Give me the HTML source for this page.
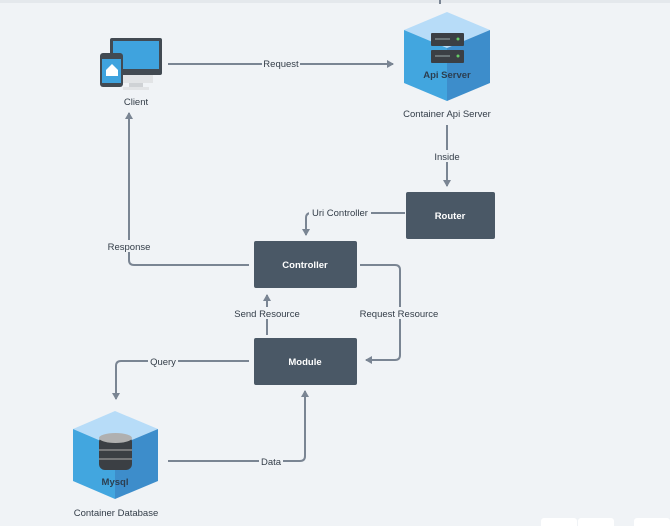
<!DOCTYPE html>
<html><head><style>
body{margin:0;background:#f0f3f6;}
svg{display:block;font-family:"Liberation Sans",sans-serif;}
</style></head><body>
<svg width="670" height="526" viewBox="0 0 670 526">
<rect x="0" y="0" width="670" height="3" fill="#e4e8ec"/>
<defs><marker id="a" markerWidth="8" markerHeight="8" refX="6" refY="4" orient="auto" markerUnits="userSpaceOnUse"><path d="M0,0 L7,4 L0,8 z" fill="#7a8593"/></marker></defs>
<g fill="none" stroke="#7a8593" stroke-width="2">
<line x1="440" y1="0" x2="440" y2="4"/>
<line x1="168" y1="64" x2="393" y2="64" marker-end="url(#a)"/>
<line x1="447" y1="125" x2="447" y2="186" marker-end="url(#a)"/>
<path d="M405,213 H311 q-5,0 -5,5 V235" marker-end="url(#a)"/>
<path d="M249,265 H134 q-5,0 -5,-5 V113" marker-end="url(#a)"/>
<path d="M360,265 H395 q5,0 5,5 V355 q0,5 -5,5 H366" marker-end="url(#a)"/>
<line x1="267" y1="335" x2="267" y2="295" marker-end="url(#a)"/>
<path d="M249,361 H121 q-5,0 -5,5 V399" marker-end="url(#a)"/>
<path d="M168,461 H300 q5,0 5,-5 V391" marker-end="url(#a)"/>
</g>
<g font-size="9.5" fill="#333d48" text-anchor="middle">
<rect x="262" y="58" width="38" height="12" fill="#f0f3f6"/><text x="281" y="67">Request</text>
<rect x="431" y="150" width="32" height="12" fill="#f0f3f6"/><text x="447" y="160">Inside</text>
<rect x="309" y="207" width="62" height="12" fill="#f0f3f6"/><text x="340" y="216">Uri Controller</text>
<rect x="106" y="240" width="46" height="12" fill="#f0f3f6"/><text x="129" y="250">Response</text>
<rect x="232" y="307" width="70" height="12" fill="#f0f3f6"/><text x="267" y="317">Send Resource</text>
<rect x="358" y="307" width="82" height="12" fill="#f0f3f6"/><text x="399" y="317">Request Resource</text>
<rect x="148" y="355" width="30" height="12" fill="#f0f3f6"/><text x="163" y="365">Query</text>
<rect x="259" y="455" width="24" height="12" fill="#f0f3f6"/><text x="271" y="465">Data</text>
<text x="136" y="105">Client</text>
<text x="447" y="117">Container Api Server</text>
<text x="116" y="516">Container Database</text>
</g>
<g>
<rect x="406" y="192" width="89" height="47" rx="2" fill="#4a5866"/>
<rect x="254" y="241" width="103" height="47" rx="2" fill="#4a5866"/>
<rect x="254" y="338" width="103" height="47" rx="2" fill="#4a5866"/>
<g font-size="9.5" font-weight="bold" fill="#fff" text-anchor="middle">
<text x="450" y="219">Router</text><text x="305" y="268">Controller</text><text x="305" y="365">Module</text></g>
</g>
<!-- client icon -->
<rect x="110" y="38" width="52" height="37" rx="2" fill="#424a52"/>
<rect x="113" y="41" width="46" height="28" fill="#3fa3de"/>
<rect x="123" y="75" width="30" height="8" fill="#e2e4e6"/>
<rect x="129" y="83" width="14" height="4" fill="#cfd2d5"/>
<rect x="123" y="87" width="26" height="3" fill="#e2e4e6"/>
<rect x="100" y="53" width="23" height="34" rx="3" fill="#424a52"/>
<rect x="102" y="59" width="19" height="24" fill="#3fa3de"/>
<path d="M106,70 L112,64 L118,70 V76 H106 z" fill="#fff"/>
<!-- api cube -->
<path d="M447,12 L490,30 L447,48 L404,30 z" fill="#b7dcf8"/>
<path d="M404,30 L447,48 L447,101 L404,83 z" fill="#42a6df"/>
<path d="M490,30 L447,48 L447,101 L490,83 z" fill="#3d8dcb"/>
<rect x="431" y="33" width="33" height="13" rx="1" fill="#3b3f44"/>
<rect x="431" y="50" width="33" height="13" rx="1" fill="#3b3f44"/>
<g stroke="#9aa" stroke-width="1"><line x1="435" y1="39" x2="450" y2="39"/><line x1="435" y1="56" x2="450" y2="56"/></g>
<circle cx="458" cy="39" r="1.5" fill="#6c6"/><circle cx="458" cy="56" r="1.5" fill="#6c6"/>
<text x="447" y="78" font-size="9.5" font-weight="bold" fill="#2c3e50" text-anchor="middle">Api Server</text>
<!-- mysql cube -->
<path d="M115,411 L158,429 L115,447 L73,429 z" fill="#b7dcf8"/>
<path d="M73,429 L115,447 L115,499 L73,481 z" fill="#42a6df"/>
<path d="M158,429 L115,447 L115,499 L158,481 z" fill="#3d8dcb"/>
<rect x="99" y="436" width="33" height="34" rx="6" fill="#3b3f44"/>
<ellipse cx="115.5" cy="438" rx="16.5" ry="5" fill="#b0b0b0"/>
<g stroke="#999" stroke-width="1.2"><line x1="99" y1="450" x2="132" y2="450"/><line x1="99" y1="459" x2="132" y2="459"/></g>
<text x="115" y="485" font-size="9.5" font-weight="bold" fill="#2c3e50" text-anchor="middle">Mysql</text>
<!-- bottom right buttons -->
<rect x="541" y="518" width="36" height="12" rx="3" fill="#fff"/>
<rect x="578" y="518" width="36" height="12" rx="3" fill="#fff"/>
<rect x="634" y="518" width="36" height="12" rx="3" fill="#fff"/>
</svg>
</body></html>
